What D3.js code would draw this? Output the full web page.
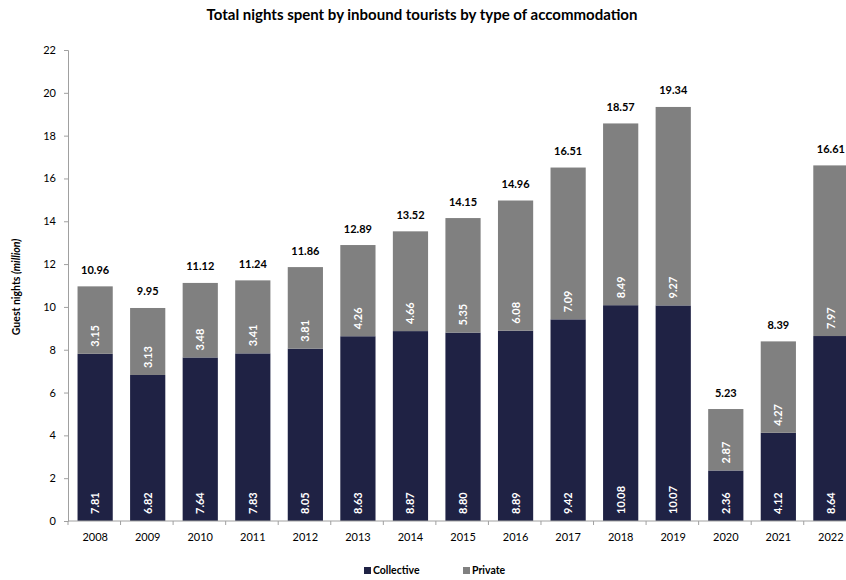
<!DOCTYPE html>
<html><head><meta charset="utf-8">
<script src="https://cdn.jsdelivr.net/npm/d3@7"></script>
<style>body{margin:0;background:#fff;} text{font-family:Lato,"Open Sans",sans-serif;}</style>
</head><body>
<svg id="c" width="846" height="580"></svg>
<script>
const years = ["2008","2009","2010","2011","2012","2013","2014","2015","2016","2017","2018","2019","2020","2021","2022"];
const collective = [7.81,6.82,7.64,7.83,8.05,8.63,8.87,8.80,8.89,9.42,10.08,10.07,2.36,4.12,8.64];
const priv = [3.15,3.13,3.48,3.41,3.81,4.26,4.66,5.35,6.08,7.09,8.49,9.27,2.87,4.27,7.97];
const totals = [10.96,9.95,11.12,11.24,11.86,12.89,13.52,14.15,14.96,16.51,18.57,19.34,5.23,8.39,16.61];
const yTicks = [0,2,4,6,8,10,12,14,16,18,20,22];
const seriesNames = ["Collective","Private"];
const colors = ["#1f2244","#808080"];

const svg = d3.select("#c");
const x = d3.scaleBand().domain(years).range([68,856.3]).paddingInner(0.33).paddingOuter(0.165).align(0.55);
const y = d3.scaleLinear().domain([0,22]).range([521,50]);

svg.append("text").attr("x",422).attr("y",20).attr("text-anchor","middle")
  .attr("font-size",15).attr("font-weight","bold").text("Total nights spent by inbound tourists by type of accommodation");

// bars
const data = years.map((yr,i)=>({yr, c:collective[i], p:priv[i], t:totals[i]}));
const g = svg.append("g");
g.selectAll(".bc").data(data).join("rect").attr("x",d=>x(d.yr)).attr("width",x.bandwidth())
  .attr("y",d=>y(d.c)).attr("height",d=>y(0)-y(d.c)).attr("fill",colors[0]);
g.selectAll(".bp").data(data).join("rect").attr("x",d=>x(d.yr)).attr("width",x.bandwidth())
  .attr("y",d=>y(d.c+d.p)).attr("height",d=>y(d.c)-y(d.c+d.p)).attr("fill",colors[1]);

// labels
g.selectAll(".lc").data(data).join("text")
  .attr("transform",d=>`translate(${x(d.yr)+x.bandwidth()/2+4},${y(0)-7}) rotate(-90)`)
  .attr("fill","#fff").attr("font-size",11).attr("font-weight","bold").text(d=>d.c.toFixed(2));
g.selectAll(".lp").data(data).join("text")
  .attr("transform",d=>`translate(${x(d.yr)+x.bandwidth()/2+4},${y(d.c)-7}) rotate(-90)`)
  .attr("fill","#fff").attr("font-size",11).attr("font-weight","bold").text(d=>d.p.toFixed(2));
g.selectAll(".lt").data(data).join("text")
  .attr("x",d=>x(d.yr)+x.bandwidth()/2).attr("y",d=>y(d.c+d.p)-12.5)
  .attr("text-anchor","middle").attr("font-size",11).attr("font-weight","bold").attr("fill","#000").text(d=>d.t.toFixed(2));

// axes
const ya = svg.append("g").attr("transform","translate(68,0)")
  .call(d3.axisLeft(y).tickValues(yTicks).tickSize(4).tickPadding(8).tickFormat(d3.format("d")));
ya.select(".domain").attr("stroke","#a0a0a0");
ya.selectAll(".tick line").attr("stroke","#a0a0a0");
ya.selectAll("text").attr("font-size",11).attr("fill","#000").attr("font-family","Lato,sans-serif");

const xa = svg.append("g").attr("transform","translate(0,521)");
xa.append("line").attr("x1",68).attr("x2",846).attr("stroke","#a0a0a0");
const step = x.step();
xa.selectAll(".tk").data(d3.range(years.length+1)).join("line")
  .attr("x1",i=>68+i*step).attr("x2",i=>68+i*step).attr("y1",0).attr("y2",4).attr("stroke","#a0a0a0");
xa.selectAll(".xl").data(years).join("text").attr("x",d=>x(d)+x.bandwidth()/2).attr("y",20)
  .attr("text-anchor","middle").attr("font-size",11).text(d=>d);

// y label
const yl = svg.append("text").attr("transform","translate(20,287) rotate(-90)").attr("text-anchor","middle")
  .attr("font-size",10.5).attr("font-weight","bold");
yl.append("tspan").text("Guest nights ");
yl.append("tspan").attr("font-style","italic").text("(million)");

// legend
const leg = svg.append("g");
const lx = [364, 463];
seriesNames.forEach((n,i)=>{
  leg.append("rect").attr("x",lx[i]).attr("y",567).attr("width",7).attr("height",7).attr("fill",colors[i]);
  leg.append("text").attr("x",lx[i]+9).attr("y",574).attr("font-size",10.5).attr("font-weight","bold").text(n);
});
</script>
</body></html>
